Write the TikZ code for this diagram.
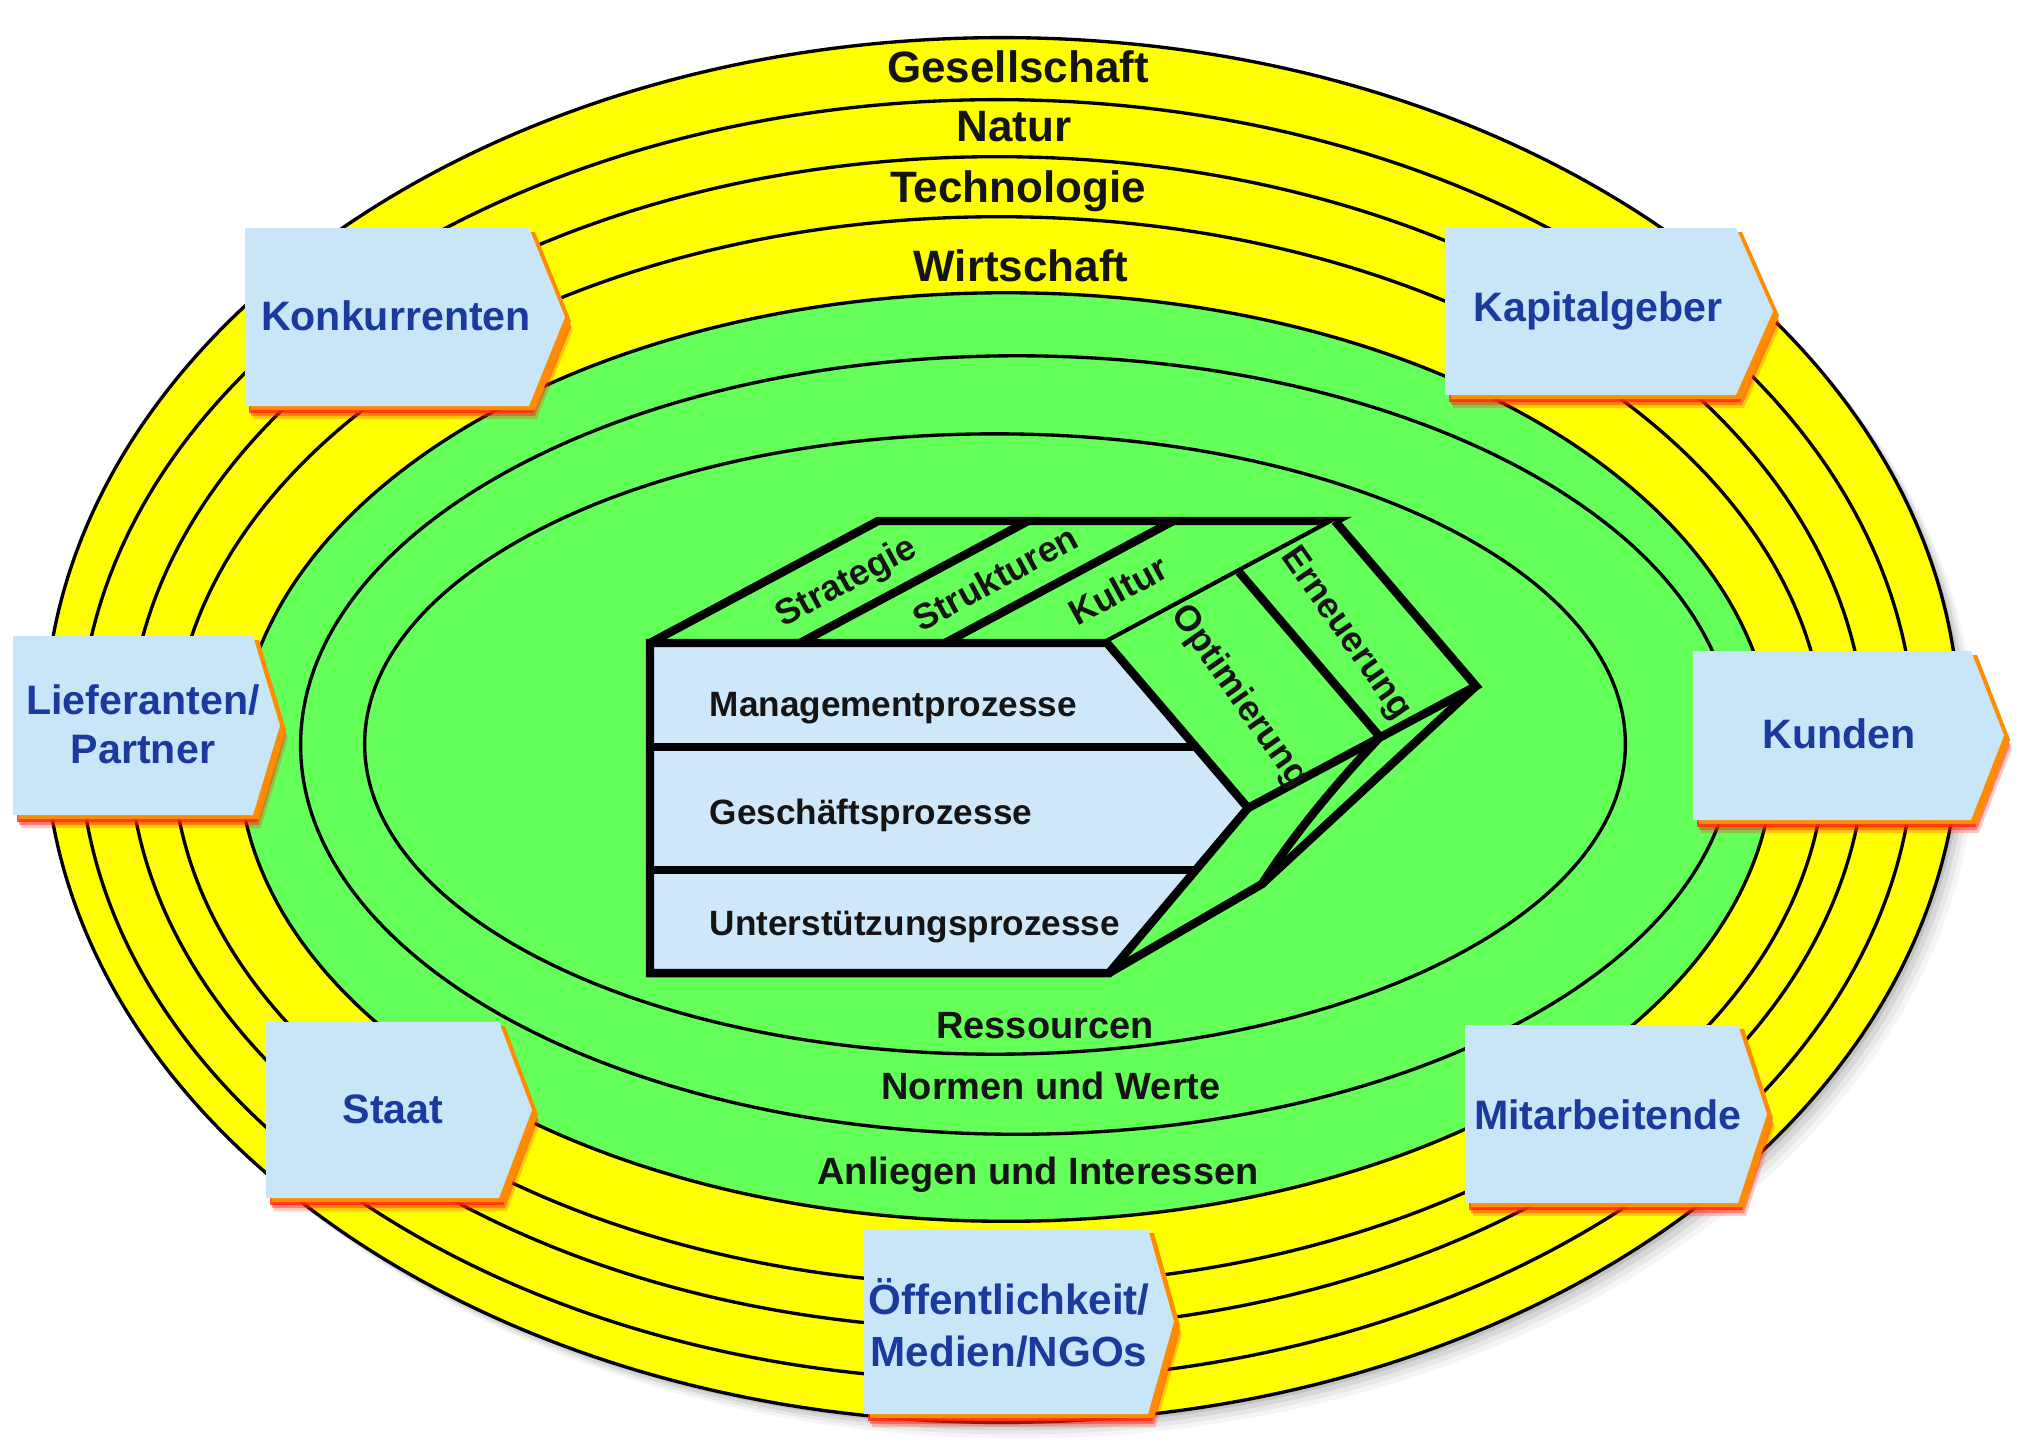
\documentclass[tikz,border=0pt]{standalone}
\usepackage{fontspec}
\setmainfont{Liberation Sans}
\usetikzlibrary{calc}
\definecolor{ringyellow}{RGB}{255,255,0}
\definecolor{ringgreen}{RGB}{100,255,88}
\definecolor{boxblue}{RGB}{206,232,250}
\definecolor{callblue}{RGB}{200,230,248}
\definecolor{calltext}{RGB}{28,58,158}
\definecolor{glowred}{RGB}{255,40,20}
\definecolor{gloworange}{RGB}{255,140,0}
\definecolor{lbltext}{RGB}{20,20,20}

% L T R B d : rectangle with pointed right end, plus red/orange glow
\newcommand\mycallout[5]{%
  \foreach \s/\o in {13/0.25,10/0.45,7/0.8}{%
    \fill[glowred, opacity=\o, shift={({0.6*\s},\s)}]
      (#1,#2) -- (#3,#2) -- ({#3+#5},{(#2+#4)/2}) -- (#3,#4) -- (#1,#4) -- cycle;}
  \fill[gloworange, shift={(6,4)}]
      (#1,#2) -- (#3,#2) -- ({#3+#5},{(#2+#4)/2}) -- (#3,#4) -- (#1,#4) -- cycle;
  \fill[callblue]
      (#1,#2) -- (#3,#2) -- ({#3+#5},{(#2+#4)/2}) -- (#3,#4) -- (#1,#4) -- cycle;
}

\begin{document}
\begin{tikzpicture}[x=0.01cm, y=-0.01cm,
  ring/.style={draw=black, line width=0.95pt},
  ringlbl/.style={font=\fontsize{12.5}{14}\selectfont\bfseries, text=lbltext, inner sep=0pt},
  greenlbl/.style={font=\fontsize{10.8}{12}\selectfont\bfseries, text=lbltext, inner sep=0pt},
  calllbl/.style={font=\fontsize{11.7}{14}\selectfont\bfseries, text=calltext, align=center, inner sep=0pt},
  boxlbl/.style={font=\fontsize{10}{12}\selectfont\bfseries, text=lbltext, anchor=west, inner sep=0pt},
  facelbl/.style={font=\fontsize{10.2}{12}\selectfont\bfseries, text=lbltext, inner sep=0pt},
  boxline/.style={draw=black, line width=2.4pt, line join=miter},
]
\fill[white] (0,0) rectangle (2034,1450);
\useasboundingbox (0,0) rectangle (2034,1450);

% soft shadow of the outer ellipse
\foreach \s/\o in {16/0.04,12/0.05,8/0.07,4/0.09}{%
  \fill[black, opacity=\o] ({1002+\s},{730+\s}) ellipse [x radius=9.57cm, y radius=6.92cm];}

% yellow rings
\fill[ringyellow] (1002,730) ellipse [x radius=9.57cm, y radius=6.92cm];
\draw[ring] (1002,730) ellipse [x radius=9.57cm, y radius=6.92cm];
\draw[ring] (997,740) ellipse [x radius=9.17cm, y radius=6.40cm];
\draw[ring] (997,743) ellipse [x radius=8.68cm, y radius=5.86cm];
\draw[ring] (999,751) ellipse [x radius=8.26cm, y radius=5.34cm];
% green rings
\fill[ringgreen] (1006,757) ellipse [x radius=7.67cm, y radius=4.64cm];
\draw[ring] (1006,757) ellipse [x radius=7.67cm, y radius=4.64cm];
\draw[ring] (1017,745) ellipse [x radius=7.16cm, y radius=3.89cm];
\draw[ring] (995,744) ellipse [x radius=6.30cm, y radius=3.10cm];

% ring labels
\node[ringlbl] (gesell) at (1018,67) {Gesellschaft};
\node[ringlbl] (natur) at (1014,127) {Natur};
\node[ringlbl] (techno) at (1018,191) {Technologie};
\node[ringlbl] (wirt) at (1021,266) {Wirtschaft};
\node[greenlbl] (ress) at (1045,1026) {Ressourcen};
\node[greenlbl] (normen) at (1051,1086) {Normen und Werte};
\node[greenlbl] (anlieg) at (1038,1175) {Anliegen und Interessen};

% ---- central box ----
\coordinate (FLT) at (650,643);
\coordinate (FRT) at (1107,643);
\coordinate (TIP) at (1248,808);
\coordinate (FRB) at (1109,973);
\coordinate (FLB) at (650,973);
\coordinate (BLT) at (878,521);
\coordinate (BRT) at (1335,521);
\coordinate (BTIP) at (1476,686);
\coordinate (RM1) at (1239,572);
\coordinate (RM2) at (1380,737);
\coordinate (LOW) at (1262,884);

% top face
\fill[ringgreen] (FLT) -- (BLT) -- (BRT) -- (FRT) -- cycle;
\draw[boxline] (FLT) -- (BLT) -- (BRT) -- (FRT);
\draw[boxline] (800,643) -- (1028,521);
\draw[boxline] (945,643) -- (1173,521);
% right face
\fill[ringgreen] (FRT) -- (BRT) -- (BTIP) -- (TIP) -- cycle;
\draw[boxline] (BRT) -- (BTIP) -- (TIP);
\draw[boxline] (RM1) -- (RM2);
% lower sliver
\draw[boxline] (BTIP) -- (LOW) -- (FRB);
\draw[boxline] (RM2) .. controls (1330,790) and (1290,840) .. (LOW);
% front face
\fill[boxblue] (FLT) -- (FRT) -- (TIP) -- (FRB) -- (FLB) -- cycle;
\draw[boxline] (FLT) -- (FRT) -- (TIP) -- (FRB) -- (FLB) -- cycle;
\draw[boxline] (650,747) -- (1196,747);
\draw[boxline] (650,870) -- (1196,870);

\node[boxlbl] (mgmt) at (709,708) {Managementprozesse};
\node[boxlbl] (gesch) at (709,815) {Geschäftsprozesse};
\node[boxlbl] (unter) at (709,927) {Unterstützungsprozesse};
\node[facelbl, rotate=28.5] (strat) at (847,583) {Strategie};
\node[facelbl, rotate=28.5] (strukt) at (995,578) {Strukturen};
\node[facelbl, rotate=28.5] (kultur) at (1118,590) {Kultur};
\node[facelbl, rotate=-55] (optim) at (1239,697) {Optimierung};
\node[facelbl, rotate=-55] (erneu) at (1345,634) {Erneuerung};

% ---- stakeholder callouts ----
\mycallout{245}{228}{529}{406}{36}
\node[calllbl] (konk) at (396,316) {Konkurrenten};
\mycallout{1445}{228}{1736}{395}{37}
\node[calllbl] (kapital) at (1598,311) {Kapitalgeber};
\mycallout{13}{636}{253}{815}{27}
\node[calllbl] (liefer) at (143,724) {Lieferanten/\\Partner};
\mycallout{1693}{651}{1971}{820}{33}
\node[calllbl] (kunden) at (1839,734) {Kunden};
\mycallout{266}{1022}{499}{1198}{33}
\node[calllbl] (staat) at (393,1109) {Staat};
\mycallout{1465}{1025}{1738}{1203}{29}
\node[calllbl] (mitarb) at (1608,1115) {Mitarbeitende};
\mycallout{864}{1229}{1148}{1414}{26}
\node[calllbl, font=\fontsize{12}{14.8}\selectfont\bfseries] (oeff) at (1009,1323) {Öffentlichkeit/\\Medien/NGOs};
\end{tikzpicture}
\end{document}
